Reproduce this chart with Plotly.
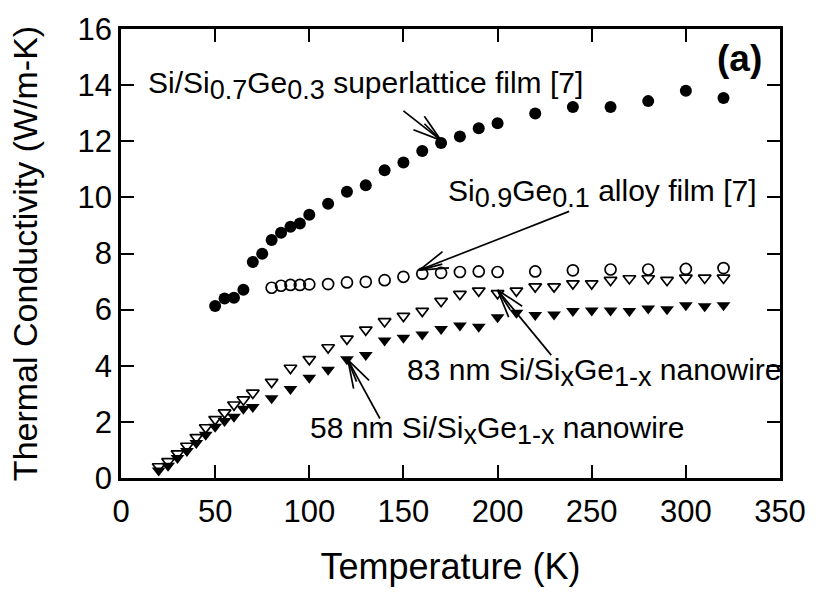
import math
import plotly.graph_objects as go

# Temperature grids (K)
T_superlattice = [50, 55, 60, 65, 70, 75, 80, 85, 90, 95, 100, 110, 120, 130, 140,
                  150, 160, 170, 180, 190, 200, 220, 240, 260, 280, 300, 320]
T_alloy = [80, 85, 90, 95, 100, 110, 120, 130, 140, 150, 160, 170, 180, 190, 200,
           220, 240, 260, 280, 300, 320]
T_wire = [20, 25, 30, 35, 40, 45, 50, 55, 60, 65, 70, 80, 90, 100, 110, 120, 130,
          140, 150, 160, 170, 180, 190, 200, 210, 220, 230, 240, 250, 260, 270,
          280, 290, 300, 310, 320]

# Thermal conductivity (W/m-K)
k_superlattice = [6.13, 6.40, 6.42, 6.71, 7.70, 7.99, 8.48, 8.74, 8.95, 9.07, 9.38,
                  9.77, 10.20, 10.43, 10.97, 11.24, 11.65, 11.94, 12.17, 12.46,
                  12.64, 12.99, 13.22, 13.22, 13.43, 13.80, 13.54]
k_alloy = [6.78, 6.85, 6.88, 6.88, 6.90, 6.91, 6.97, 6.99, 7.05, 7.17, 7.28, 7.31,
           7.34, 7.36, 7.34, 7.36, 7.40, 7.43, 7.43, 7.45, 7.48]
k_wire_83 = [0.41, 0.59, 0.87, 1.14, 1.45, 1.80, 2.09, 2.33, 2.61, 2.79, 3.03, 3.42,
             3.92, 4.23, 4.65, 4.96, 5.28, 5.58, 5.77, 5.95, 6.30, 6.55, 6.67, 6.58,
             6.67, 6.82, 6.82, 6.93, 6.93, 7.05, 7.11, 7.11, 7.05, 7.13, 7.13, 7.13]
k_wire_58 = [0.27, 0.44, 0.71, 0.96, 1.25, 1.54, 1.83, 2.03, 2.18, 2.47, 2.53, 2.84,
             3.17, 3.57, 3.86, 4.23, 4.38, 4.90, 5.00, 5.11, 5.31, 5.43, 5.39, 5.73,
             5.89, 5.81, 5.83, 5.95, 5.97, 5.97, 5.95, 6.04, 6.01, 6.16, 6.12, 6.16]

x_ticks = [0, 50, 100, 150, 200, 250, 300, 350]
y_ticks = [0, 2, 4, 6, 8, 10, 12, 14, 16]

W, H = 818, 592
M = dict(l=121, r=30, t=21, b=111)
X_RANGE = [0, 350]
Y_RANGE = [0, 16]
PX_X = (W - M["l"] - M["r"]) / (X_RANGE[1] - X_RANGE[0])
PX_Y = (H - M["t"] - M["b"]) / (Y_RANGE[1] - Y_RANGE[0])

FONT = "Liberation Sans, Arial, Helvetica, sans-serif"

fig = go.Figure()

fig.add_trace(go.Scatter(
    x=T_superlattice, y=k_superlattice, mode="markers", cliponaxis=False,
    marker=dict(symbol="circle", size=12, color="black", line=dict(width=0)),
    name="superlattice"))
fig.add_trace(go.Scatter(
    x=T_alloy, y=k_alloy, mode="markers", cliponaxis=False,
    marker=dict(symbol="circle-open", size=11, color="black", line=dict(width=1.7)),
    name="alloy"))
fig.add_trace(go.Scatter(
    x=T_wire, y=k_wire_83, mode="markers", cliponaxis=False,
    marker=dict(symbol="triangle-down-open", size=11, color="black",
                line=dict(width=1.7)),
    name="83 nm"))
fig.add_trace(go.Scatter(
    x=T_wire, y=k_wire_58, mode="markers", cliponaxis=False,
    marker=dict(symbol="triangle-down", size=12, color="black", line=dict(width=0)),
    name="58 nm"))


def sub(s, size=27):
    return "<sub><span style='font-size:%dpx'>%s</span></sub>" % (size, s)


labels = [
    ("Si/Si" + sub("0.7") + "Ge" + sub("0.3") + " superlattice film [7]", 13.4, 13.98),
    ("Si" + sub("0.9") + "Ge" + sub("0.1") + " alloy film [7]", 172.8, 10.15),
    ("83 nm Si/Si" + sub("x") + "Ge" + sub("1-x") + " nanowire", 150.8, 3.75),
    ("58 nm Si/Si" + sub("x") + "Ge" + sub("1-x") + " nanowire", 99.3, 1.70),
]
for text, xl, yl in labels:
    fig.add_annotation(x=xl, y=yl, xref="x", yref="y", text=text, showarrow=False,
                       xanchor="left", yanchor="middle",
                       font=dict(family=FONT, size=30, color="black"))

fig.add_annotation(x=328.5, y=14.95, xref="x", yref="y", text="<b>(a)</b>",
                   showarrow=False, xanchor="center", yanchor="middle",
                   font=dict(family=FONT, size=37, color="black"))

# Pointer arrows: (tail T, tail k) -> (tip T, tip k), drawn with open barbed heads
arrows = [
    ((150.0, 13.08), (170.0, 12.03)),
    ((238.0, 9.50), (158.5, 7.41)),
    ((228.5, 4.38), (200.0, 6.70)),
    ((137.5, 2.12), (120.5, 4.21)),
]


def line_shape(x0, y0, x1, y1):
    fig.add_shape(type="line", xref="x", yref="y", x0=x0, y0=y0, x1=x1, y1=y1,
                  line=dict(color="black", width=1.7))


for (tx, ty), (hx, hy) in arrows:
    line_shape(tx, ty, hx, hy)
    # direction in screen pixels (y downwards)
    dx = (tx - hx) * PX_X
    dy = -(ty - hy) * PX_Y
    ang = math.atan2(dy, dx)
    for off, length in ((0.30, 30), (-0.30, 30), (0.12, 24)):
        bx = hx + math.cos(ang + off) * length / PX_X
        by = hy - math.sin(ang + off) * length / PX_Y
        line_shape(hx, hy, bx, by)

axis_common = dict(
    showline=True, linecolor="black", linewidth=2.5, mirror="ticks",
    ticks="inside", ticklen=13, tickwidth=2, tickcolor="black",
    showgrid=False, zeroline=False,
    tickfont=dict(family=FONT, size=31, color="black"),
)

fig.update_xaxes(range=X_RANGE, tickvals=x_ticks, ticklabelstandoff=4,
                 title=dict(text="Temperature (K)", standoff=26,
                            font=dict(family=FONT, size=36, color="black")),
                 **axis_common)
fig.update_yaxes(range=Y_RANGE, tickvals=y_ticks, ticklabelstandoff=0,
                 title=dict(text="Thermal Conductivity (W/m-K)", standoff=30,
                            font=dict(family=FONT, size=34, color="black")),
                 **axis_common)

fig.update_layout(
    width=W, height=H, margin=M, showlegend=False,
    paper_bgcolor="white", plot_bgcolor="white",
    font=dict(family=FONT, color="black"),
)

fig.write_html("out.html")
